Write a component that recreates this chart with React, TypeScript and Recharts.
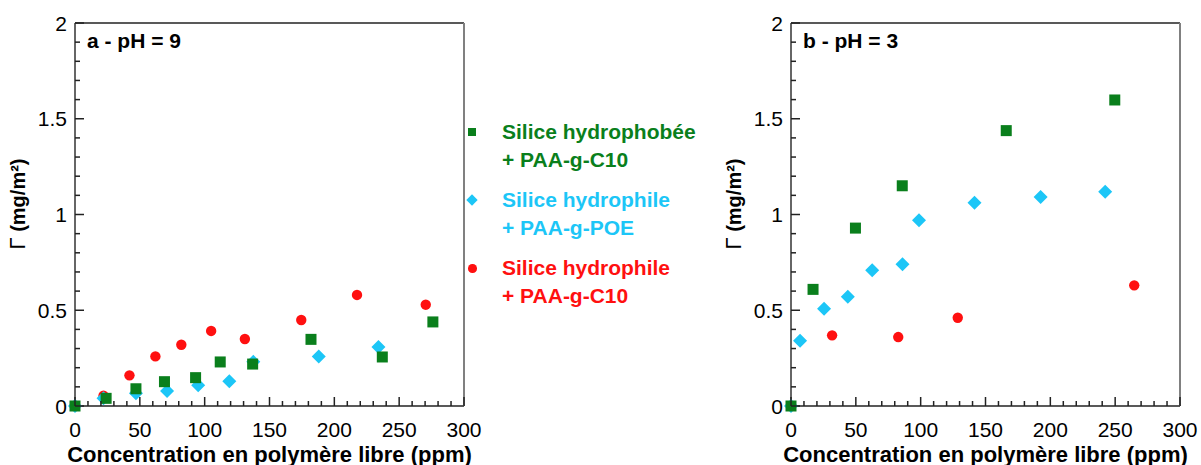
import React from 'react';
import { ScatterChart, Scatter, XAxis, YAxis } from 'recharts';

// tick values (minor every 10 ppm / 0.1 mg/m², labelled every 50 / 0.5)
const xTicks = [0, 10, 20, 30, 40, 50, 60, 70, 80, 90, 100, 110, 120, 130, 140, 150, 160, 170, 180, 190, 200, 210, 220, 230, 240, 250, 260, 270, 280, 290, 300];
const yTicks = [0, 0.1, 0.2, 0.3, 0.4, 0.5, 0.6, 0.7, 0.8, 0.9, 1, 1.1, 1.2, 1.3, 1.4, 1.5, 1.6, 1.7, 1.8, 1.9, 2];

// pH = 9
const phobeC10_a = [
  { x: 0, y: 0 }, { x: 24, y: 0.04 }, { x: 47, y: 0.09 }, { x: 69, y: 0.127 }, { x: 93, y: 0.148 },
  { x: 112, y: 0.23 }, { x: 137, y: 0.219 }, { x: 182, y: 0.348 }, { x: 237, y: 0.256 }, { x: 276, y: 0.439 },
];
const philePOE_a = [
  { x: 0, y: 0 }, { x: 22, y: 0.04 }, { x: 47, y: 0.066 }, { x: 71, y: 0.078 }, { x: 95, y: 0.108 },
  { x: 119, y: 0.129 }, { x: 137.5, y: 0.231 }, { x: 188, y: 0.259 }, { x: 234, y: 0.308 },
];
const phileC10_a = [
  { x: 22, y: 0.054 }, { x: 42, y: 0.16 }, { x: 62, y: 0.259 }, { x: 82, y: 0.32 }, { x: 105, y: 0.392 },
  { x: 131, y: 0.35 }, { x: 174.5, y: 0.449 }, { x: 217.5, y: 0.58 }, { x: 270.5, y: 0.529 },
];

// pH = 3
const phobeC10_b = [
  { x: 0, y: 0 }, { x: 17, y: 0.609 }, { x: 49.7, y: 0.929 }, { x: 85.8, y: 1.15 }, { x: 166, y: 1.438 }, { x: 249.7, y: 1.598 },
];
const philePOE_b = [
  { x: 0, y: 0 }, { x: 7, y: 0.341 }, { x: 25.5, y: 0.508 }, { x: 43.8, y: 0.571 }, { x: 62.6, y: 0.709 },
  { x: 86, y: 0.74 }, { x: 98.7, y: 0.97 }, { x: 141.5, y: 1.062 }, { x: 192.5, y: 1.091 }, { x: 242.3, y: 1.119 },
];
const phileC10_b = [
  { x: 31.7, y: 0.369 }, { x: 82.7, y: 0.36 }, { x: 128.6, y: 0.461 }, { x: 264.7, y: 0.63 },
];

const GREEN = '#0a7f1c';
const CYAN = '#1cc6f7';
const RED = '#ff1010';

const isMajorX = (v: number) => v % 50 === 0;
const isMajorY = (v: number) => Math.abs(v * 2 - Math.round(v * 2)) < 1e-6;

function BottomTick({ x, y, payload }: any) {
  const major = isMajorX(payload.value);
  return (
    <g>
      <path d={`M${x},${y}L${x},${y - (major ? 9 : 5)}`} stroke="#222" strokeWidth={1.5} />
      {major && (
        <text x={x} y={y + 31} textAnchor="middle" fontSize={21} fill="#000">
          {payload.value}
        </text>
      )}
    </g>
  );
}

function TopTick({ x, y, payload }: any) {
  const major = isMajorX(payload.value);
  return <path d={`M${x},${y}L${x},${y + (major ? 9 : 5)}`} stroke="#222" strokeWidth={1.5} />;
}

function LeftTick({ x, y, payload }: any) {
  const major = isMajorY(payload.value);
  return (
    <g>
      <path d={`M${x},${y}L${x + (major ? 9 : 5)},${y}`} stroke="#222" strokeWidth={1.5} />
      {major && (
        <text x={x - 8} y={y + 7.5} textAnchor="end" fontSize={21} fill="#000">
          {String(payload.value)}
        </text>
      )}
    </g>
  );
}

function RightTick({ x, y, payload }: any) {
  const major = isMajorY(payload.value);
  return <path d={`M${x},${y}L${x - (major ? 9 : 5)},${y}`} stroke="#222" strokeWidth={1.5} />;
}

function YLabel({ viewBox }: any) {
  const cx = viewBox.x - 10;
  const cy = 204;
  return (
    <text x={cx} y={cy} transform={`rotate(-90 ${cx} ${cy})`} textAnchor="middle" fill="#000">
      <tspan fontSize={22}>Γ</tspan>
      <tspan fontWeight="bold" fontSize={20}> (mg/m²)</tspan>
    </text>
  );
}

const Square = ({ cx, cy }: any) => <rect x={cx - 5.5} y={cy - 5.5} width={11} height={11} fill={GREEN} />;
const Diamond = ({ cx, cy }: any) => (
  <polygon points={`${cx},${cy - 7} ${cx + 7},${cy} ${cx},${cy + 7} ${cx - 7},${cy}`} fill={CYAN} />
);
const Dot = ({ cx, cy }: any) => <circle cx={cx} cy={cy} r={5.2} fill={RED} />;

interface PanelProps {
  title: string;
  left: number;
  green: { x: number; y: number }[];
  cyan: { x: number; y: number }[];
  red: { x: number; y: number }[];
}

function Panel({ title, left, green, cyan, red }: PanelProps) {
  return (
    <div style={{ position: 'absolute', left, top: 0, transform: 'scale(1)', transformOrigin: '0 0' }}>
      <ScatterChart width={485} height={465} margin={{ top: 22, right: 20, bottom: 29, left: 35 }}>
        <XAxis
          xAxisId="b"
          dataKey="x"
          type="number"
          domain={[0, 300]}
          ticks={xTicks}
          interval={0}
          height={30}
          tickSize={0}
          tickMargin={0}
          tickLine={false}
          tick={<BottomTick />}
          axisLine={{ stroke: '#222', strokeWidth: 1.5 }}
          label={{
            value: 'Concentration en polymère libre (ppm)',
            position: 'bottom',
            offset: 10,
            fontSize: 22,
            fontWeight: 'bold',
            fill: '#000',
          }}
        />
        <XAxis
          xAxisId="t"
          orientation="top"
          type="number"
          domain={[0, 300]}
          ticks={xTicks}
          interval={0}
          height={1}
          tickSize={0}
          tickMargin={0}
          tickLine={false}
          tick={<TopTick />}
          axisLine={{ stroke: '#222', strokeWidth: 1.5 }}
        />
        <YAxis
          yAxisId="l"
          dataKey="y"
          type="number"
          domain={[0, 2]}
          ticks={yTicks}
          interval={0}
          width={40}
          tickSize={0}
          tickMargin={0}
          tickLine={false}
          tick={<LeftTick />}
          axisLine={{ stroke: '#333', strokeWidth: 1.5 }}
          label={<YLabel />}
        />
        <YAxis
          yAxisId="r"
          orientation="right"
          type="number"
          domain={[0, 2]}
          ticks={yTicks}
          interval={0}
          width={1}
          tickSize={0}
          tickMargin={0}
          tickLine={false}
          tick={<RightTick />}
          axisLine={{ stroke: '#808080', strokeWidth: 2 }}
        />
        <Scatter xAxisId="b" yAxisId="l" data={red} shape={<Dot />} isAnimationActive={false} />
        <Scatter xAxisId="b" yAxisId="l" data={cyan} shape={<Diamond />} isAnimationActive={false} />
        <Scatter xAxisId="b" yAxisId="l" data={green} shape={<Square />} isAnimationActive={false} />
      </ScatterChart>
      <div style={{ position: 'absolute', left: 87, top: 29, fontWeight: 'bold', fontSize: 21, lineHeight: '24px', whiteSpace: 'nowrap' }}>
        {title}
      </div>
    </div>
  );
}

const legendItems = [
  { lines: ['Silice hydrophobée', '+ PAA-g-C10'], color: GREEN, marker: 'square', top: 118 },
  { lines: ['Silice hydrophile', '+ PAA-g-POE'], color: CYAN, marker: 'diamond', top: 186 },
  { lines: ['Silice hydrophile', '+ PAA-g-C10'], color: RED, marker: 'circle', top: 254 },
];

function markerStyle(kind: string, color: string): React.CSSProperties {
  if (kind === 'square') return { position: 'absolute', left: -4, top: 10, width: 8, height: 8, background: color };
  if (kind === 'diamond')
    return { position: 'absolute', left: -4, top: 10, width: 8, height: 8, background: color, transform: 'rotate(45deg)' };
  return { position: 'absolute', left: -4, top: 10, width: 8.5, height: 8.5, borderRadius: '50%', background: color };
}

export default function App() {
  return (
    <div
      style={{
        position: 'absolute',
        left: 0,
        top: 0,
        width: 1201,
        height: 465,
        background: '#fff',
        fontFamily: '"Liberation Sans", Arial, sans-serif',
      }}
    >
      <Panel title="a - pH = 9" left={0} green={phobeC10_a} cyan={philePOE_a} red={phileC10_a} />
      <Panel title="b - pH = 3" left={716} green={phobeC10_b} cyan={philePOE_b} red={phileC10_b} />
      {legendItems.map((item) => (
        <div key={item.lines[0] + item.color} style={{ position: 'absolute', left: 472, top: item.top }}>
          <div style={markerStyle(item.marker, item.color)} />
          <div
            style={{
              position: 'absolute',
              left: 30,
              top: 0,
              color: item.color,
              fontWeight: 'bold',
              fontSize: 21,
              lineHeight: '28px',
              whiteSpace: 'nowrap',
            }}
          >
            {item.lines.map((l) => (
              <div key={l}>{l}</div>
            ))}
          </div>
        </div>
      ))}
    </div>
  );
}
